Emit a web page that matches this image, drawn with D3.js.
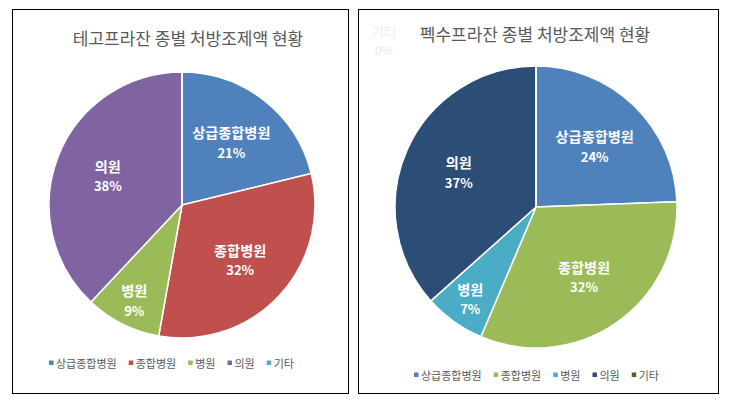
<!DOCTYPE html>
<html>
<head>
<meta charset="utf-8">
<script src="https://cdn.jsdelivr.net/npm/d3@7"></script>
<style>
  body { margin: 0; background: #fff; }
  text { font-family: "Noto Sans CJK KR", "Noto Sans", sans-serif; }
</style>
</head>
<body>
<div id="chart"></div>
<script>
// categories shared by both charts
const categories = ['상급종합병원', '종합병원', '병원', '의원', '기타'];

// share of prescription amount (%)
const tegoValues = [21.2, 31.6, 9.2, 38.0, 0.0];
const fexuValues = [24.4, 32.0, 7.0, 36.6, 0.0];

const tegoTitle = '테고프라잔 종별 처방조제액 현황';
const fexuTitle = '펙수프라잔 종별 처방조제액 현황';

const tegoColors = ['#4F81BD', '#C0504D', '#9BBB59', '#8064A2', '#4BACC6'];
const fexuColors = ['#4F81BD', '#9BBB59', '#4BACC6', '#2C4D75', '#4F6228'];

const W = 732, H = 403;

const svg = d3.select('#chart').append('svg')
    .attr('width', W)
    .attr('height', H);

svg.append('rect').attr('width', W).attr('height', H).attr('fill', '#fff');

function drawPanel(opts) {
    const g = svg.append('g').attr('transform', `translate(${opts.x}, ${opts.y})`);

    // frame
    g.append('rect')
        .attr('x', 0.5).attr('y', 0.5)
        .attr('width', opts.w).attr('height', opts.h)
        .attr('fill', 'none')
        .attr('stroke', '#000')
        .attr('stroke-width', 1);

    // title
    g.append('text')
        .attr('x', opts.titleX)
        .attr('y', opts.titleY)
        .attr('text-anchor', 'middle')
        .attr('dominant-baseline', 'central')
        .attr('fill', '#595959')
        .attr('font-size', 17)
        .text(opts.title);

    const data = categories.map((c, i) => ({ name: c, value: opts.values[i], color: opts.colors[i] }));
    const total = d3.sum(data, d => d.value);

    const pie = d3.pie().sort(null).value(d => d.value);
    const arcs = pie(data);
    const arc = d3.arc().innerRadius(0).outerRadius(opts.r);

    const pg = g.append('g').attr('transform', `translate(${opts.cx}, ${opts.cy})`);

    pg.selectAll('path')
        .data(arcs)
        .enter()
        .append('path')
        .attr('d', arc)
        .attr('fill', d => d.data.color)
        .attr('stroke', '#fff')
        .attr('stroke-width', 1.5)
        .attr('stroke-linejoin', 'round');

    // data labels: narrow slices get pushed further out
    const labels = pg.selectAll('g.lbl')
        .data(arcs.filter(d => d.value > 0))
        .enter()
        .append('g')
        .attr('class', 'lbl')
        .attr('transform', d => {
            const span = d.endAngle - d.startAngle;
            const rr = opts.r * (span < 0.7 ? 0.8 : 0.6);
            const a = (d.startAngle + d.endAngle) / 2;
            return `translate(${Math.sin(a) * rr}, ${-Math.cos(a) * rr})`;
        });

    labels.append('text')
        .attr('y', -10)
        .attr('text-anchor', 'middle')
        .attr('dominant-baseline', 'central')
        .attr('fill', '#fff')
        .attr('font-weight', 'bold')
        .attr('font-size', 14.2)
        .text(d => d.data.name);

    labels.append('text')
        .attr('y', 10)
        .attr('text-anchor', 'middle')
        .attr('dominant-baseline', 'central')
        .attr('fill', '#fff')
        .attr('font-weight', 'bold')
        .attr('font-size', 13)
        .text(d => Math.round(d.value / total * 100) + '%');

    // zero slice label, faint, parked at the top-left corner
    if (opts.zeroLabel) {
        arcs.filter(d => d.value === 0).forEach(d => {
            const zg = g.append('g').attr('transform', `translate(${opts.zeroLabel[0]}, ${opts.zeroLabel[1]})`);
            zg.append('text')
                .attr('text-anchor', 'middle')
                .attr('dominant-baseline', 'central')
                .attr('fill', '#eeeeee')
                .attr('font-size', 14)
                .text(d.data.name);
            zg.append('text')
                .attr('y', 19)
                .attr('text-anchor', 'middle')
                .attr('dominant-baseline', 'central')
                .attr('fill', '#eeeeee')
                .attr('font-weight', 'bold')
                .attr('font-size', 11.5)
                .text(Math.round(d.value / total * 100) + '%');
        });
    }

    // legend
    const lg = g.append('g').attr('transform', `translate(${opts.legendX}, ${opts.legendY})`);
    let xPos = 0;
    data.forEach(d => {
        lg.append('rect')
            .attr('x', xPos).attr('y', -2.5)
            .attr('width', 4.5).attr('height', 4.5)
            .attr('fill', d.color);
        const t = lg.append('text')
            .attr('x', xPos + 7)
            .attr('y', 0)
            .attr('dominant-baseline', 'central')
            .attr('fill', '#595959')
            .attr('font-size', 11)
            .text(d.name);
        xPos += 7 + t.node().getComputedTextLength() + 12;
    });
}

drawPanel({
    x: 12, y: 9, w: 336, h: 384,
    title: tegoTitle, titleX: 176, titleY: 28,
    values: tegoValues, colors: tegoColors,
    cx: 170, cy: 196, r: 133,
    legendX: 37, legendY: 354
});

drawPanel({
    x: 358, y: 9, w: 360, h: 384,
    title: fexuTitle, titleX: 177, titleY: 24,
    values: fexuValues, colors: fexuColors,
    cx: 178, cy: 198, r: 141,
    legendX: 56, legendY: 366,
    zeroLabel: [26, 22]
});
</script>
</body>
</html>
